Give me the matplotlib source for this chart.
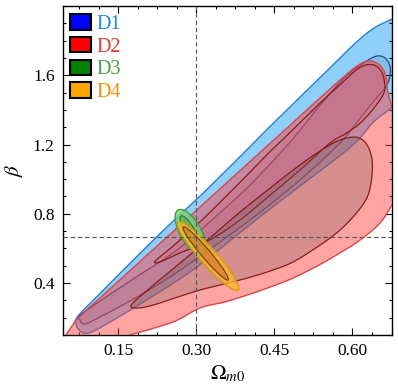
import numpy as np
import matplotlib
matplotlib.use("Agg")
import matplotlib.pyplot as plt
from matplotlib.patches import Patch
from matplotlib.ticker import AutoMinorLocator

plt.rcParams['font.family'] = ['Liberation Serif', 'DejaVu Serif']
plt.rcParams['mathtext.fontset'] = 'stix'

# contour outlines, (Omega_m0, beta)
d1_out_om = [0.073, 0.115, 0.194, 0.250, 0.307, 0.374, 0.442, 0.499, 0.561, 0.605, 0.640, 0.676,
             0.711, 0.726, 0.711, 0.676, 0.640, 0.600, 0.507, 0.408, 0.300, 0.215, 0.135, 0.094,
             0.077, 0.069]
d1_out_b = [0.210, 0.340, 0.578, 0.742, 0.902, 1.100, 1.305, 1.473, 1.655, 1.784, 1.870, 1.925,
            1.977, 1.803, 1.544, 1.417, 1.330, 1.195, 0.978, 0.749, 0.490, 0.322, 0.176, 0.112,
            0.123, 0.164]

d1_in_om = [0.077, 0.082, 0.173, 0.263, 0.336, 0.403, 0.480, 0.538, 0.586, 0.624, 0.647, 0.663,
            0.672, 0.672, 0.665, 0.643, 0.615, 0.576, 0.499, 0.403, 0.269, 0.186, 0.096, 0.081]
d1_in_b = [0.187, 0.227, 0.412, 0.591, 0.781, 0.966, 1.214, 1.428, 1.590, 1.676, 1.711, 1.699,
           1.653, 1.596, 1.538, 1.457, 1.353, 1.209, 0.995, 0.764, 0.475, 0.319, 0.175, 0.169]

d2_out_om = [0.031, 0.046, 0.063, 0.077, 0.134, 0.213, 0.269, 0.328, 0.403, 0.480, 0.538, 0.582,
             0.607, 0.626, 0.643, 0.657, 0.665, 0.668, 0.676, 0.691, 0.699, 0.688, 0.676, 0.653,
             0.615, 0.576, 0.532, 0.486, 0.442, 0.398, 0.355, 0.307, 0.255, 0.173, 0.134, 0.086,
             0.046]
d2_out_b = [0.013, 0.083, 0.160, 0.210, 0.366, 0.582, 0.735, 0.896, 1.101, 1.311, 1.470, 1.588,
            1.650, 1.680, 1.676, 1.642, 1.584, 1.503, 1.417, 1.284, 1.053, 0.908, 0.851, 0.747,
            0.649, 0.574, 0.498, 0.429, 0.377, 0.331, 0.291, 0.256, 0.175, 0.100, 0.060, 0.013,
            0.002]

# D2 1sigma has two lobes
d2_up_om = [0.221, 0.250, 0.288, 0.326, 0.365, 0.403, 0.442, 0.480, 0.538, 0.582, 0.607, 0.626,
            0.643, 0.655, 0.661, 0.661, 0.643, 0.615, 0.586, 0.557, 0.499, 0.442, 0.384, 0.326,
            0.269, 0.230]
d2_up_b = [0.527, 0.600, 0.700, 0.808, 0.925, 1.040, 1.160, 1.270, 1.440, 1.562, 1.630, 1.660,
           1.657, 1.624, 1.572, 1.503, 1.417, 1.324, 1.261, 1.209, 1.053, 0.908, 0.764, 0.649,
           0.574, 0.522]

d2_lo_om = [0.175, 0.211, 0.269, 0.326, 0.384, 0.442, 0.499, 0.547, 0.576, 0.605, 0.624, 0.636,
            0.638, 0.630, 0.609, 0.576, 0.538, 0.486, 0.442, 0.398, 0.346, 0.307, 0.259, 0.217,
            0.188]
d2_lo_b = [0.273, 0.371, 0.516, 0.660, 0.810, 0.949, 1.082, 1.180, 1.226, 1.243, 1.214, 1.139,
           1.041, 0.908, 0.810, 0.706, 0.620, 0.522, 0.470, 0.429, 0.389, 0.360, 0.314, 0.273,
           0.256]

# D3, D4: centre, half extent in (Omega, beta), correlation
d3_centre = [(0.289, 0.695), (0.287, 0.701)]
d3_extent = [(0.0297, 0.1305), (0.0183, 0.0876)]
d3_rho = [-0.651, -0.804]
d4_centre = [(0.3225, 0.556), (0.318, 0.571)]
d4_extent = [(0.0589, 0.199), (0.0437, 0.154)]
d4_rho = [-0.934, -0.967]

om_fid = 0.30
beta_fid = 0.668

labels = ['D1', 'D2', 'D3', 'D4']
handle_colors = ['#0000ff', '#ff0000', '#008000', '#ffa500']
text_colors = ['#1e88e5', '#e53935', '#43a047', '#fb8c00']


def smooth(xs, ys, n=10):
    # closed Catmull-Rom through the read points
    p = np.column_stack([xs, ys])
    m = len(p)
    out = []
    for i in range(m):
        p0, p1, p2, p3 = p[i - 1], p[i], p[(i + 1) % m], p[(i + 2) % m]
        for t in np.linspace(0, 1, n, endpoint=False):
            out.append(0.5 * (2 * p1 + (p2 - p0) * t + (2 * p0 - 5 * p1 + 4 * p2 - p3) * t ** 2
                              + (3 * p1 - p0 - 3 * p2 + p3) * t ** 3))
    out = np.array(out)
    return out[:, 0], out[:, 1]


def ellipse(c, w, rho, n=200):
    t = np.linspace(0, 2 * np.pi, n)
    x = c[0] + w[0] * np.cos(t)
    y = c[1] + w[1] * (rho * np.cos(t) + np.sqrt(1 - rho ** 2) * np.sin(t))
    return x, y


fig = plt.figure(figsize=(3.98, 3.90), dpi=100)
ax = fig.add_axes([0.1583, 0.141, 0.8267, 0.8436])

x, y = smooth(d1_out_om, d1_out_b)
ax.fill(x, y, fc='#8fcffa', ec='#2a7fd0', lw=1.0, zorder=1)
x, y = smooth(d1_in_om, d1_in_b)
ax.fill(x, y, fc=(0.23, 0.35, 0.55, 0.14), ec='#2b4a80', lw=0.9, zorder=2)

x, y = smooth(d2_out_om, d2_out_b)
ax.fill(x, y, fc=(1.0, 0.25, 0.25, 0.48), ec='#d84848', lw=1.0, zorder=3)
x, y = smooth(d2_up_om, d2_up_b)
ax.fill(x, y, fc=(0.85, 0.3, 0.38, 0.2), ec='#8b1a1a', lw=0.9, zorder=4)
x, y = smooth(d2_lo_om, d2_lo_b)
ax.fill(x, y, fc=(0.43, 0.35, 0.35, 0.28), ec='#8b1a1a', lw=0.9, zorder=4)

ax.fill(*ellipse(d3_centre[0], d3_extent[0], d3_rho[0]), fc=(0.47, 0.82, 0.47, 0.8),
        ec='#3c9f3c', lw=1.0, zorder=5)
ax.fill(*ellipse(d3_centre[1], d3_extent[1], d3_rho[1]), fc=(0.24, 0.63, 0.24, 0.45),
        ec='#2a7a2a', lw=0.8, zorder=6)
ax.fill(*ellipse(d4_centre[0], d4_extent[0], d4_rho[0]), fc=(1.0, 0.72, 0.16, 0.75),
        ec='#d0a000', lw=1.0, zorder=7)
ax.fill(*ellipse(d4_centre[1], d4_extent[1], d4_rho[1]), fc=(0.78, 0.43, 0.12, 0.55),
        ec='#7a3a10', lw=0.8, zorder=8)

ax.axvline(om_fid, color='#555555', lw=0.8, ls=(0, (4, 2.5)), zorder=10)
ax.axhline(beta_fid, color='#555555', lw=0.8, ls=(0, (4, 2.5)), zorder=10)

ax.set_xlim(0.044, 0.676)
ax.set_ylim(0.1, 2.0)
ax.set_xticks([0.15, 0.30, 0.45, 0.60])
ax.set_xticklabels(['0.15', '0.30', '0.45', '0.60'])
ax.set_yticks([0.4, 0.8, 1.2, 1.6])
ax.set_yticklabels(['0.4', '0.8', '1.2', '1.6'])
ax.xaxis.set_minor_locator(AutoMinorLocator(4))
ax.yaxis.set_minor_locator(AutoMinorLocator(4))
ax.tick_params(which='both', direction='in', top=True, right=True, labelsize=12.5, width=0.8)
ax.tick_params(which='major', length=5, pad=6)
ax.tick_params(which='minor', length=2.5)
for s in ax.spines.values():
    s.set_linewidth(1.0)

ax.set_xlabel(r'$\Omega_{m0}$', fontsize=15, labelpad=3)
ax.set_ylabel(r'$\beta$', fontsize=15, labelpad=6)

handles = [Patch(fc=c, ec='black', lw=1.5) for c in handle_colors]
leg = ax.legend(handles, labels, loc='upper left', bbox_to_anchor=(0.02, 0.975), frameon=False,
                fontsize=14.5, handlelength=1.05, handleheight=0.8, handletextpad=0.3,
                labelspacing=0.15, borderpad=0, borderaxespad=0)
for t, c in zip(leg.get_texts(), text_colors):
    t.set_color(c)

fig.savefig('out.png', dpi=100)
